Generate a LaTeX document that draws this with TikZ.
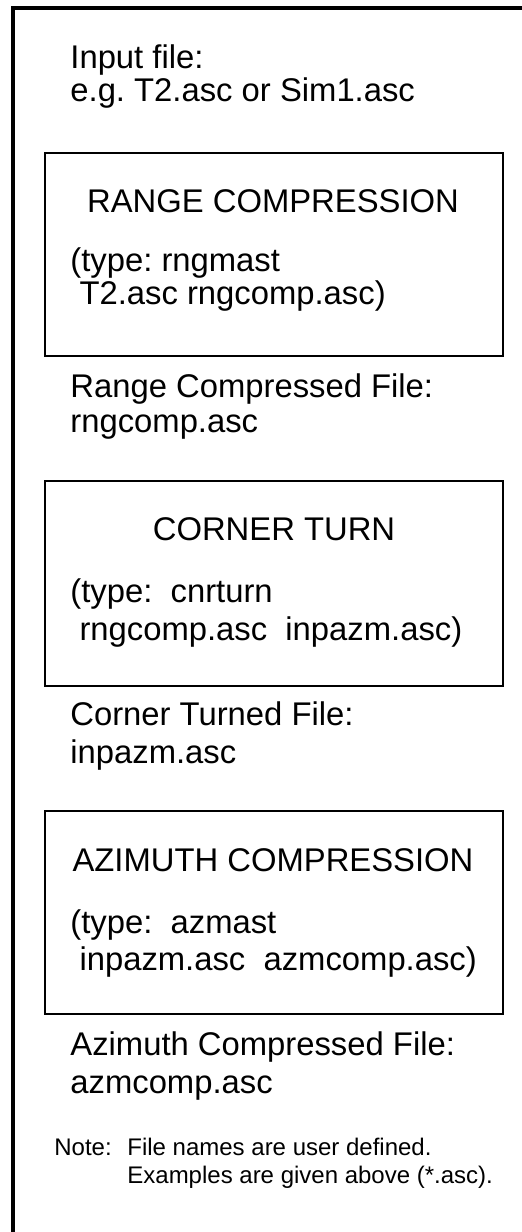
\documentclass[tikz,border=0pt]{standalone}
\usepackage{fontspec}
\setmainfont{Liberation Sans}
\frenchspacing
\tikzset{
  stagebox/.style={draw=black, line width=1pt, shape=rectangle, anchor=north west,
    minimum width=229pt, inner sep=0pt},
  filetext/.style={anchor=base west, inner sep=0pt, align=left,
    font=\fontsize{16.4}{18.5}\selectfont},
  stagetitle/.style={anchor=base, inner sep=0pt, font=\fontsize{16.4}{18.5}\selectfont},
  notetext/.style={anchor=base west, inner sep=0pt, align=left,
    font=\fontsize{12}{14}\selectfont}
}
\begin{document}
\begin{tikzpicture}[x=0.5pt,y=-0.5pt]
\useasboundingbox (0,0) rectangle (522,1232);
\clip (0,0) rectangle (522,1232);
% outer frame, cut off at right and bottom
\draw[line width=2pt] (13,1260) -- (13,8) -- (540,8);

\node[filetext, font=\fontsize{16.4}{15}\selectfont] (input) at (70,101)
{Input file:\\e.g. T2.asc or Sim1.asc};

\node[stagebox, minimum height=101.5pt] (rangebox) at (44,152) {};
\node[stagetitle] (rangetitle) at (273,212) {RANGE COMPRESSION};
\node[filetext, font=\fontsize{16.4}{16.5}\selectfont] (rangecmd) at (70,304)
{(type: rngmast\\\ T2.asc rngcomp.asc)};
\node[filetext, font=\fontsize{16.4}{17.5}\selectfont] (rangefile) at (70,432)
{Range Compressed File:\\rngcomp.asc};

\node[stagebox, minimum height=102.5pt] (cornerbox) at (44,480) {};
\node[stagetitle] (cornertitle) at (274,540) {CORNER TURN};
\node[filetext, font=\fontsize{16.4}{19}\selectfont] (cornercmd) at (70,640)
{(type:~ cnrturn\\\ rngcomp.asc~ inpazm.asc)};
\node[filetext, font=\fontsize{16.4}{19}\selectfont] (cornerfile) at (70,763)
{Corner Turned File:\\inpazm.asc};

\node[stagebox, minimum height=101.5pt] (azimuthbox) at (44,810) {};
\node[stagetitle] (azimuthtitle) at (273,871) {AZIMUTH COMPRESSION};
\node[filetext, font=\fontsize{16.4}{18.5}\selectfont] (azimuthcmd) at (70,970)
{(type:~ azmast\\\ inpazm.asc~ azmcomp.asc)};
\node[filetext, font=\fontsize{16.4}{19}\selectfont] (azimuthfile) at (70,1093)
{Azimuth Compressed File:\\azmcomp.asc};

\node[notetext] (notelabel) at (54,1155) {Note:};
\node[notetext] (note) at (127,1183)
{File names are user defined.\\Examples are given above (*.asc).};
\end{tikzpicture}
\end{document}
